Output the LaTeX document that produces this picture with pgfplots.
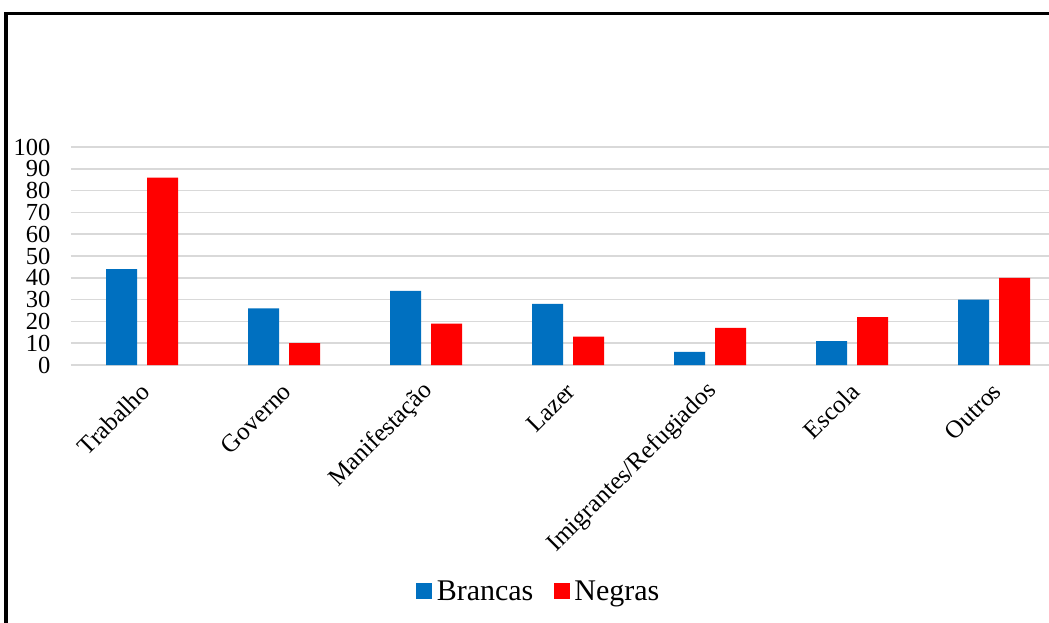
\documentclass[border=0pt]{standalone}
\usepackage{fontspec}
\setmainfont{Liberation Serif}
\usepackage{pgfplots}
\pgfplotsset{compat=1.18}
\definecolor{brancas}{RGB}{0,112,192}
\definecolor{negras}{RGB}{255,0,0}
\definecolor{gridgray}{RGB}{217,217,217}
\begin{document}
\begin{tikzpicture}[x=1pt,y=1pt]
\useasboundingbox (0,0) rectangle (1049,622);
\clip (0,0) rectangle (1049,622);
% frame of the figure
\draw[line width=3.5pt,black] (6,-10) -- (6,608.5) -- (1060,608.5);
\begin{axis}[
  at={(71pt,257pt)}, anchor=south west,
  scale only axis, width=978pt, height=218pt,
  xmin=-0.5, xmax=6.387, ymin=0, ymax=100,
  ybar=10pt, bar width=31pt,
  axis line style={draw=none},
  major tick length=0pt,
  ytick={0,10,...,100},
  ymajorgrids, grid style={line width=1.5pt, color=gridgray},
  xtick={0,1,2,3,4,5,6},
  xticklabels={Trabalho,Governo,Manifestação,Lazer,Imigrantes/Refugiados,Escola,Outros},
  /pgf/number format/assume math mode=true,
  yticklabel style={font=\fontsize{24.5}{24.5}\selectfont, anchor=east, xshift=-17pt},
  xticklabel style={font=\fontsize{25}{25}\selectfont, xshift=5.5pt, yshift=-20pt, anchor=east, rotate=45},
  legend columns=2,
  legend style={at={(0.4796,-1.037)}, anchor=center, draw=none, fill=none,
    font=\fontsize{30}{30}\selectfont,
    /tikz/every even column/.append style={column sep=16pt},
    nodes={inner sep=4.5pt}},
  legend image code/.code={\fill[#1] (0pt,-8pt) rectangle (16pt,8pt);},
  clip=false,
]
\addplot[fill=brancas, draw=none] coordinates {(0,44) (1,26) (2,34) (3,28) (4,6) (5,11) (6,30)};
\addplot[fill=negras, draw=none] coordinates {(0,86) (1,10) (2,19) (3,13) (4,17) (5,22) (6,40)};
\legend{Brancas,Negras}
\end{axis}
\end{tikzpicture}
\end{document}
